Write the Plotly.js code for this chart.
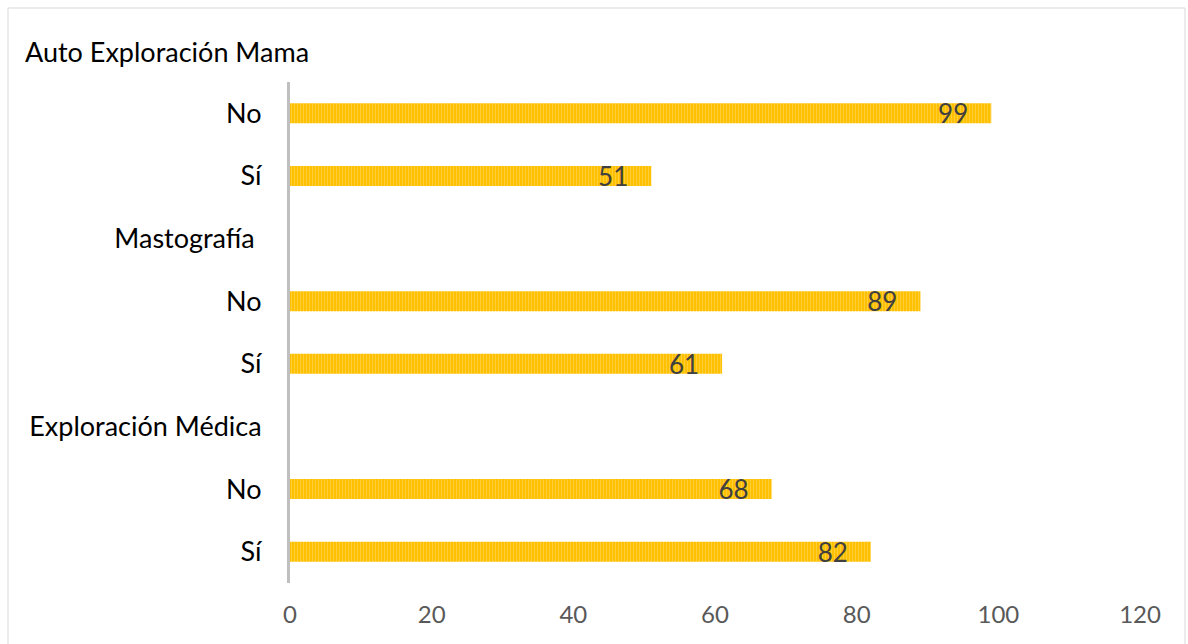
<!DOCTYPE html>
<html>
<head>
<meta charset="utf-8">
<script src="https://cdn.plot.ly/plotly-3.0.1.min.js"></script>
<style>html,body{margin:0;padding:0;background:#fff;}#chart{width:1188px;height:644px;}</style>
</head>
<body>
<div id="chart"></div>
<script>
const chartTitle = "Auto Exploración Mama";
const categoryIds = ["aem-no", "aem-si", "masto-h", "masto-no", "masto-si", "exp-h", "exp-no", "exp-si"];
const categoryLabels = ["No", "Sí", "Mastografía ", "No", "Sí", "Exploración Médica", "No", "Sí"];
const values = [99, 51, null, 89, 61, null, 68, 82];
const xTicks = [0, 20, 40, 60, 80, 100, 120];

const trace = {
  type: "bar",
  orientation: "h",
  x: values,
  y: categoryIds,
  marker: {
    color: "#FFC000",
    pattern: {shape: "|", bgcolor: "#FFC000", fgcolor: "#FFDA6A", size: 3, solidity: 0.35, fillmode: "overlay"}
  },
  text: values.map(v => v === null ? "" : String(v) + "\u00a0\u00a0\u00a0"),
  texttemplate: "%{text}",
  textposition: "inside",
  insidetextanchor: "end",
  constraintext: "none",
  textfont: {family: "Lato, 'Open Sans', sans-serif", size: 26, color: "#404040"},
  hoverinfo: "x+y"
};

const layout = {
  width: 1188,
  height: 644,
  paper_bgcolor: "#ffffff",
  plot_bgcolor: "#ffffff",
  margin: {l: 290, r: 48, t: 82, b: 61},
  showlegend: false,
  bargap: 0.68,
  font: {family: "Lato, 'Open Sans', sans-serif"},
  title: {
    text: chartTitle,
    font: {family: "Lato, 'Open Sans', sans-serif", size: 27, color: "#000000"},
    xref: "container", yref: "container",
    x: 25 / 1188, xanchor: "left",
    y: 1 - 53 / 644, yanchor: "middle"
  },
  xaxis: {
    range: [0, 120],
    tickvals: xTicks,
    ticktext: xTicks.map(String),
    showgrid: false,
    zeroline: false,
    showline: false,
    ticks: "outside",
    ticklen: 10,
    tickcolor: "rgba(0,0,0,0)",
    tickfont: {family: "Lato, 'Open Sans', sans-serif", size: 24, color: "#595959"},
    fixedrange: true
  },
  yaxis: {
    type: "category",
    categoryorder: "array",
    categoryarray: categoryIds,
    tickvals: categoryIds,
    ticktext: categoryLabels,
    autorange: "reversed",
    showgrid: false,
    zeroline: false,
    showline: true,
    linecolor: "#BFBFBF",
    linewidth: 3,
    ticks: "outside",
    ticklen: 20,
    tickcolor: "rgba(0,0,0,0)",
    tickfont: {family: "Lato, 'Open Sans', sans-serif", size: 27, color: "#000000"},
    fixedrange: true
  },
  shapes: [{
    type: "rect", xref: "paper", yref: "paper",
    x0: (8 - 290) / 850, x1: (1185 - 290) / 850,
    y0: (583 - 660) / 501, y1: (583 - 8) / 501,
    line: {color: "#D9D9D9", width: 1},
    fillcolor: "rgba(0,0,0,0)",
    layer: "below"
  }]
};

Plotly.newPlot("chart", [trace], layout, {displayModeBar: false, staticPlot: true});
</script>
</body>
</html>
